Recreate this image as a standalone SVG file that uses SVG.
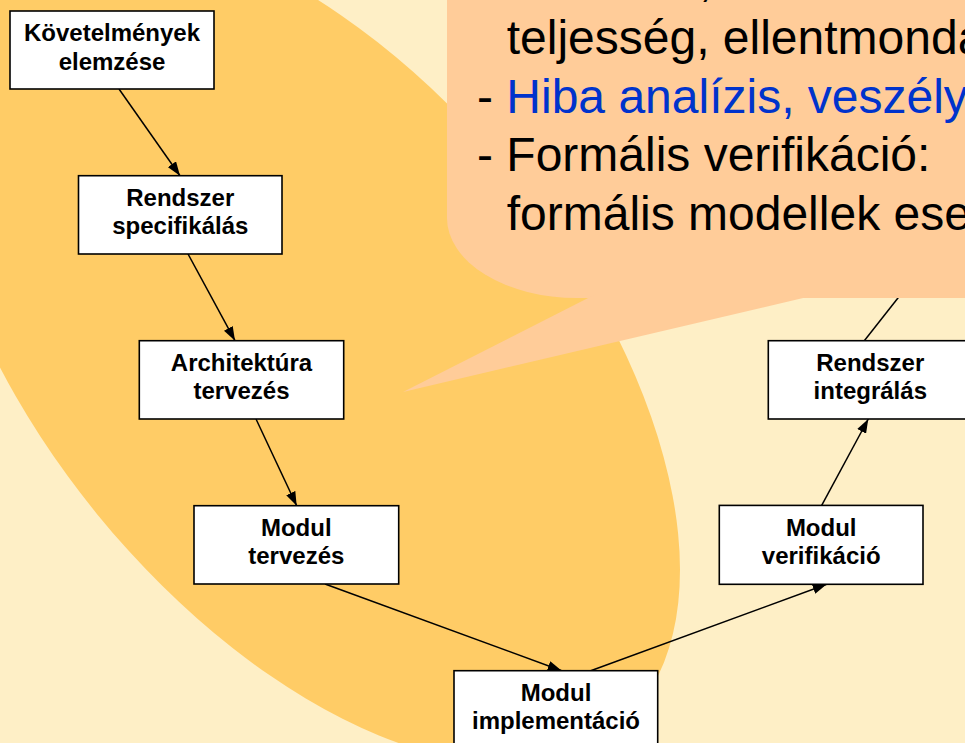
<svg xmlns="http://www.w3.org/2000/svg" width="965" height="743" viewBox="0 0 965 743">
  <defs>
    <marker id="arrow" viewBox="0 0 14 10" refX="14" refY="5" markerWidth="14" markerHeight="10" markerUnits="userSpaceOnUse" orient="auto">
      <path d="M0,0 L14,5 L0,10 z" fill="#000"/>
    </marker>
    <style>
      .box { fill: #ffffff; stroke: #000000; stroke-width: 1.6; }
      .label { font-family: "Liberation Sans", Arial, sans-serif; font-weight: bold; font-size: 24px; fill: #000; text-anchor: middle; }
      .conn { stroke: #000000; stroke-width: 1.5; fill: none; }
      .conn.arr { marker-end: url(#arrow); }
      .note { font-family: "Liberation Sans", Arial, sans-serif; font-size: 48px; fill: #000; }
      .blue { fill: #0033cc; }
    </style>
  </defs>

  <!-- backdrop -->
  <rect x="0" y="0" width="965" height="743" fill="#feefc6"/>
  <ellipse cx="305" cy="345" rx="494" ry="268" transform="rotate(50.8 305 345)" fill="#ffcc66"/>

  <!-- connectors -->
  <g id="connectors">
    <line class="conn arr" x1="119" y1="89" x2="180" y2="175.7"/>
    <line class="conn arr" x1="188" y1="254" x2="235" y2="340.7"/>
    <line class="conn arr" x1="256" y1="419" x2="296.7" y2="505.7"/>
    <line class="conn arr" x1="325" y1="584" x2="561.7" y2="670.7"/>
    <line class="conn arr" x1="590.7" y1="670.7" x2="826.7" y2="584.3"/>
    <line class="conn arr" x1="821.7" y1="505.3" x2="868.3" y2="419"/>
    <line class="conn" x1="864.3" y1="340.7" x2="920" y2="270"/>
  </g>

  <!-- callout -->
  <g id="callout">
    <rect x="447" y="-200" width="700" height="498" rx="130" ry="80" fill="#ffcc99"/>
    <polygon points="403,392 596,294 820,294" fill="#ffcc99"/>
    <text class="note" x="699" y="-4.5">,</text>
    <text class="note" x="506.7" y="54">teljesség, ellentmondásmentesség</text>
    <text class="note" x="477" y="112.5">- <tspan class="blue">Hiba analízis, veszélyelemzés</tspan></text>
    <text class="note" x="477" y="171">- Formális verifikáció:</text>
    <text class="note" x="506.7" y="229.5">formális modellek esetén</text>
  </g>

  <!-- nodes -->
  <g id="n-kovetelmenyek">
    <rect class="box" x="10" y="11" width="204" height="78"/>
    <text class="label" x="112" y="41">Követelmények</text>
    <text class="label" x="112" y="69.5">elemzése</text>
  </g>
  <g id="n-rendszer-spec">
    <rect class="box" x="78.5" y="175.7" width="203.5" height="78.3"/>
    <text class="label" x="180.3" y="205.7">Rendszer</text>
    <text class="label" x="180.3" y="234.3">specifikálás</text>
  </g>
  <g id="n-architektura">
    <rect class="box" x="139.3" y="340.7" width="204.4" height="78.3"/>
    <text class="label" x="241.5" y="371">Architektúra</text>
    <text class="label" x="241.5" y="399.3">tervezés</text>
  </g>
  <g id="n-modul-terv">
    <rect class="box" x="194" y="505.7" width="204.7" height="78.3"/>
    <text class="label" x="296.3" y="536">Modul</text>
    <text class="label" x="296.3" y="564.3">tervezés</text>
  </g>
  <g id="n-modul-impl">
    <rect class="box" x="454" y="670.7" width="203.7" height="78.3"/>
    <text class="label" x="556" y="701">Modul</text>
    <text class="label" x="556" y="729.3">implementáció</text>
  </g>
  <g id="n-modul-verif">
    <rect class="box" x="719.3" y="505.4" width="203.7" height="78.9"/>
    <text class="label" x="821.2" y="535.7">Modul</text>
    <text class="label" x="821.2" y="564">verifikáció</text>
  </g>
  <g id="n-rendszer-integr">
    <rect class="box" x="768.3" y="340.7" width="204" height="78.3"/>
    <text class="label" x="870.3" y="371">Rendszer</text>
    <text class="label" x="870.3" y="399.3">integrálás</text>
  </g>
</svg>
